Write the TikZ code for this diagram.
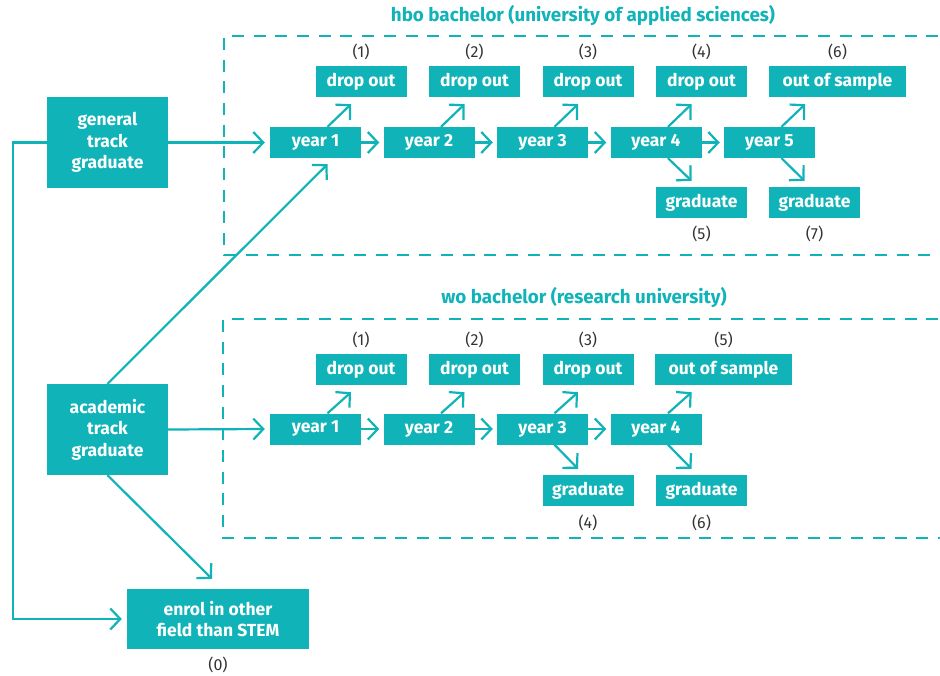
\documentclass[tikz,border=0pt]{standalone}
\usepackage{fontspec}
\setmainfont{Fira Sans}
\usetikzlibrary{arrows.meta}
\definecolor{tealc}{HTML}{10B3B8}
\definecolor{lblc}{HTML}{333333}
\begin{document}
\begin{tikzpicture}[x=1pt,y=-1pt,
  box/.style={fill=tealc, text=white, font=\bfseries\fontsize{17.5}{21.5}\selectfont, inner sep=0pt, align=center, minimum width=91pt, minimum height=31pt},
  widebox/.style={box, minimum width=137pt},
  bigbox/.style={box, minimum width=121pt, minimum height=91pt},
  numlbl/.style={text=lblc, font=\fontsize{16}{18}\selectfont, inner sep=0pt},
  title/.style={text=tealc, font=\bfseries\fontsize{18.8}{22}\selectfont, inner sep=0pt},
  arr/.style={draw=tealc, line width=2.2pt, -{Straight Barb[length=10pt,width=21pt,line width=2.2pt]}},
  frame/.style={draw=tealc, line width=2.6pt, dash pattern=on 12pt off 9.7pt}
]
\useasboundingbox (0,0) rectangle (940,675);

% frames
\draw[frame] (960,36) -- (224,36) -- (224,255) -- (960,255);
\draw[frame] (960,319) -- (223,319) -- (223,538) -- (960,538);
\node[title] (th) at (583,16) {hbo bachelor (university of applied sciences)};
\node[title] (tw) at (584,298) {wo bachelor (research university)};

% left boxes
\node[bigbox] (gen) at (107.5,142.5) {general\\track\\graduate};
\node[bigbox] (acad) at (107.5,429.5) {academic\\track\\graduate};
\node[box, minimum width=182pt, minimum height=60pt] (enrol) at (218,619) {enrol in other\\field than STEM};
\node[numlbl] (l0) at (218,665) {(0)};

% hbo
\node[box] (h1) at (315.5,142.5) {year 1};
\node[box] (h2) at (429,142.5) {year 2};
\node[box] (h3) at (542.5,142.5) {year 3};
\node[box] (h4) at (656,142.5) {year 4};
\node[box] (h5) at (769.5,142.5) {year 5};
\node[box] (hd1) at (361,81.5) {drop out};
\node[box] (hd2) at (474.5,81.5) {drop out};
\node[box] (hd3) at (588,81.5) {drop out};
\node[box] (hd4) at (701.5,81.5) {drop out};
\node[widebox] (hs) at (837.5,81.5) {out of sample};
\node[box] (hg4) at (701.5,202.5) {graduate};
\node[box] (hg5) at (814.5,202.5) {graduate};
\node[numlbl] at (361,52) {(1)};
\node[numlbl] at (474.5,52) {(2)};
\node[numlbl] at (588,52) {(3)};
\node[numlbl] at (701.5,52) {(4)};
\node[numlbl] at (837.5,52) {(6)};
\node[numlbl] at (701.5,234) {(5)};
\node[numlbl] at (814.5,234) {(7)};

% wo
\node[box] (w1) at (315.5,429) {year 1};
\node[box] (w2) at (429,429) {year 2};
\node[box] (w3) at (542.5,429) {year 3};
\node[box] (w4) at (656,429) {year 4};
\node[box] (wd1) at (361,369.5) {drop out};
\node[box] (wd2) at (474.5,369.5) {drop out};
\node[box] (wd3) at (588,369.5) {drop out};
\node[widebox] (ws) at (723.5,369.5) {out of sample};
\node[box] (wg3) at (588,490.5) {graduate};
\node[box] (wg4) at (701.5,490.5) {graduate};
\node[numlbl] at (361,340) {(1)};
\node[numlbl] at (474.5,340) {(2)};
\node[numlbl] at (588,340) {(3)};
\node[numlbl] at (723.5,340) {(5)};
\node[numlbl] at (588,523) {(4)};
\node[numlbl] at (701.5,523) {(6)};

% hbo arrows
\draw[arr] (gen.east) -- ([xshift=-5pt]h1.west);
\draw[arr] (h1.east) -- ([xshift=-4pt]h2.west);
\draw[arr] (h2.east) -- ([xshift=-4pt]h3.west);
\draw[arr] (h3.east) -- ([xshift=-4pt]h4.west);
\draw[arr] (h4.east) -- ([xshift=-4pt]h5.west);
\draw[arr] ([xshift=12pt]h1.north) -- ([xshift=-10pt,yshift=-7pt]hd1.south);
\draw[arr] ([xshift=12pt]h2.north) -- ([xshift=-10pt,yshift=-7pt]hd2.south);
\draw[arr] ([xshift=12pt]h3.north) -- ([xshift=-10pt,yshift=-7pt]hd3.south);
\draw[arr] ([xshift=12pt]h4.north) -- ([xshift=-10pt,yshift=-7pt]hd4.south);
\draw[arr] ([xshift=12pt]h5.north) -- ([xshift=-10pt,yshift=-7pt]hd4.south -| h5.east);
\draw[arr] ([xshift=12pt]h4.south) -- ([xshift=-10pt,yshift=6pt]hg4.north);
\draw[arr] ([xshift=12pt]h5.south) -- ([xshift=-10pt,yshift=6pt]hg5.north);

% wo arrows
\draw[arr] (acad.east) -- ([xshift=-5pt]w1.west);
\draw[arr] (w1.east) -- ([xshift=-4pt]w2.west);
\draw[arr] (w2.east) -- ([xshift=-4pt]w3.west);
\draw[arr] (w3.east) -- ([xshift=-4pt]w4.west);
\draw[arr] ([xshift=12pt]w1.north) -- ([xshift=-10pt,yshift=-7pt]wd1.south);
\draw[arr] ([xshift=12pt]w2.north) -- ([xshift=-10pt,yshift=-7pt]wd2.south);
\draw[arr] ([xshift=12pt]w3.north) -- ([xshift=-10pt,yshift=-7pt]wd3.south);
\draw[arr] ([xshift=12pt]w4.north) -- ([xshift=-10pt,yshift=-7pt]wd3.south -| w4.east);
\draw[arr] ([xshift=12pt]w3.south) -- ([xshift=-10pt,yshift=6pt]wg3.north);
\draw[arr] ([xshift=12pt]w4.south) -- ([xshift=-10pt,yshift=6pt]wg4.north);

% cross arrows
\draw[arr] (acad.north) -- ([xshift=12pt,yshift=-6pt]h1.south);
\draw[arr] (acad.south) -- ([xshift=-6pt,yshift=10pt]enrol.north);
\draw[arr] (gen.west) -- ++(-34,0) |- ([xshift=-5pt]enrol.west);
\end{tikzpicture}
\end{document}
